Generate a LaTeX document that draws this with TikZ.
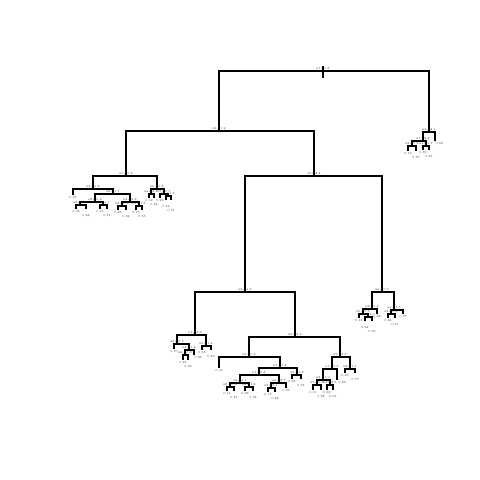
\documentclass[tikz,border=0pt]{standalone}
\begin{document}
\begin{tikzpicture}[x=1pt,y=-1pt,
  br/.style={line width=1.1pt},
  lab/.style={font=\fontsize{3}{3.4}\selectfont, text=black!80, inner sep=0.3pt}]
\useasboundingbox (0,0) rectangle (480,480);
\fill[white] (0,0) rectangle (480,480);
\newcommand\nd[3]{\coordinate (#1) at (#2,#3);}
\newcommand\lf[5][]{\coordinate (#2) at (#3,#4); \node[lab,anchor=north,yshift=-1pt,#1] (u#2) at (#2) {#5};}
\newcommand\spl[4]{\draw[br] (#2) |- (#1) -| (#3); \node[lab,anchor=south] (t#1) at ([yshift=1pt]#1) {#4};}
% internal nodes
\nd{root}{323}{71} \nd{rtop}{323}{66} \nd{rbot}{323}{78}
\nd{L}{219}{131} \nd{R}{429}{132}
\nd{A}{126}{176} \nd{B}{314}{176}
\nd{AL}{93}{189} \nd{ALb}{113}{194} \nd{ALba}{95}{202} \nd{ALbaa}{80}{205} \nd{ALbab}{103}{205}
\nd{ALbb}{130}{202} \nd{ALbba}{122}{206} \nd{ALbbb}{139}{206}
\nd{AR}{157}{189} \nd{ARa}{151}{194} \nd{ARb}{164}{194} \nd{ARbb}{168}{196}
\nd{BL}{245}{292} \nd{BLL}{195}{335} \nd{BLLa}{177}{344} \nd{BLLab}{189}{350} \nd{BLLaba}{185}{355}
\nd{BLLb}{206}{346}
\nd{BLR}{295}{337} \nd{BLRa}{249}{357} \nd{BLRab}{280}{368} \nd{BLRaba}{259}{375}
\nd{Xa}{240}{383} \nd{Xaa}{230}{387} \nd{Xab}{249}{387} \nd{Xb}{279}{383} \nd{Xba}{271}{388}
\nd{BLRabb}{297}{375}
\nd{BLRb}{340}{357} \nd{BLRba}{332}{369} \nd{Ya}{323}{380} \nd{Yaa}{317}{385} \nd{Yab}{330}{385}
\nd{BLRbb}{350}{369}
\nd{BR}{382}{292} \nd{BRa}{372}{309} \nd{BRaa}{363}{314} \nd{BRaab}{368}{317}
\nd{BRb}{394}{310} \nd{BRba}{391}{314}
\nd{Ra}{423}{141} \nd{Raa}{412}{146} \nd{Rab}{426}{146}
% leaves
\lf{l1}{73}{195}{0.21}
\lf{l2}{76}{209}{0.08} \lf[yshift=-4pt]{l3}{86}{209}{0.33}
\lf{l4}{100}{209}{0.15} \lf[yshift=-4pt]{l5}{107}{209}{0.47}
\lf{l6}{118}{210}{0.26} \lf[yshift=-4pt]{l7}{126}{210}{0.62}
\lf{l8}{136}{210}{0.19} \lf[yshift=-4pt]{l9}{142}{210}{0.55}
\lf{l10}{149}{198}{0.12} \lf[yshift=-4pt]{l11}{154}{198}{0.38}
\lf{l12}{160}{198}{0.29} \lf[yshift=-4pt]{l13}{166}{200}{0.44} \lf[yshift=-8pt]{l14}{171}{200}{0.71}
\lf{l15}{174}{349}{0.10}
\lf{l16}{183}{360}{0.27} \lf[yshift=-4pt]{l17}{188}{360}{0.52} \lf[anchor=north west]{l18}{194}{355}{0.36}
\lf{l19}{202}{350}{0.18} \lf[yshift=-4pt]{l20}{211}{350}{0.49}
\lf{l21}{219}{368}{0.09}
\lf{l22}{227}{391}{0.14} \lf[yshift=-4pt]{l23}{234}{391}{0.31}
\lf{l24}{245}{391}{0.23} \lf[yshift=-4pt]{l25}{253}{391}{0.58}
\lf{l26}{268}{392}{0.17} \lf[yshift=-4pt]{l27}{275}{392}{0.42} \lf{l28}{286}{388}{0.66}
\lf{l29}{292}{379}{0.35} \lf[yshift=-4pt]{l30}{301}{379}{0.74}
\lf{l31}{313}{390}{0.11} \lf[yshift=-4pt]{l32}{321}{390}{0.28}
\lf{l33}{327}{390}{0.39} \lf[yshift=-4pt]{l34}{333}{390}{0.61} \lf[anchor=north west,xshift=1pt]{l35}{337}{380}{0.83}
\lf{l36}{345}{373}{0.45} \lf[yshift=-4pt]{l37}{355}{373}{0.77}
\lf{l38}{359}{318}{0.13} \lf[yshift=-4pt]{l39}{365}{321}{0.34} \lf[yshift=-8pt]{l40}{372}{321}{0.56} \lf{l41}{377}{314}{0.68}
\lf{l42}{388}{318}{0.24} \lf[yshift=-4pt]{l43}{395}{318}{0.51} \lf{l44}{403}{314}{0.79}
\lf{l45}{408}{151}{0.16} \lf[yshift=-4pt]{l46}{416}{151}{0.37}
\lf{l47}{423}{150}{0.59} \lf[yshift=-4pt]{l48}{429}{150}{0.81} \lf[anchor=north west]{l49}{435}{141}{0.92}
% root stub
\draw[br] (rtop) -- (rbot);
% splits
\spl{root}{L}{R}{x7\,\textless\,0.5}
\spl{L}{A}{B}{x2\,\textless\,1.2}
\spl{R}{Ra}{l49}{x4\,\textless\,3.1}
\spl{A}{AL}{AR}{x1\,\textless\,0.8}
\spl{B}{BL}{BR}{x5\,\textless\,2.4}
\spl{AL}{l1}{ALb}{x3\,\textless\,0.2}
\spl{ALb}{ALba}{ALbb}{x6\,\textless\,1.7}
\spl{ALba}{ALbaa}{ALbab}{x8\,\textless\,0.4}
\spl{ALbaa}{l2}{l3}{x2\,\textless\,0.9}
\spl{ALbab}{l4}{l5}{x1\,\textless\,1.1}
\spl{ALbb}{ALbba}{ALbbb}{x4\,\textless\,2.2}
\spl{ALbba}{l6}{l7}{x9\,\textless\,0.6}
\spl{ALbbb}{l8}{l9}{x3\,\textless\,1.5}
\spl{AR}{ARa}{ARb}{x6\,\textless\,0.3}
\spl{ARa}{l10}{l11}{x2\,\textless\,2.8}
\spl{ARb}{l12}{ARbb}{x5\,\textless\,0.7}
\spl{ARbb}{l13}{l14}{x7\,\textless\,1.9}
\spl{BL}{BLL}{BLR}{x3\,\textless\,0.9}
\spl{BLL}{BLLa}{BLLb}{x1\,\textless\,2.6}
\spl{BLLa}{l15}{BLLab}{x8\,\textless\,0.5}
\spl{BLLab}{BLLaba}{l18}{x4\,\textless\,1.3}
\spl{BLLaba}{l16}{l17}{x6\,\textless\,0.2}
\spl{BLLb}{l19}{l20}{x9\,\textless\,1.4}
\spl{BLR}{BLRa}{BLRb}{x2\,\textless\,3.3}
\spl{BLRa}{l21}{BLRab}{x5\,\textless\,0.6}
\spl{BLRab}{BLRaba}{BLRabb}{x7\,\textless\,1.2}
\spl{BLRaba}{Xa}{Xb}{x1\,\textless\,0.4}
\spl{Xa}{Xaa}{Xab}{x3\,\textless\,2.1}
\spl{Xaa}{l22}{l23}{x8\,\textless\,0.8}
\spl{Xab}{l24}{l25}{x4\,\textless\,1.6}
\spl{Xb}{Xba}{l28}{x6\,\textless\,2.7}
\spl{Xba}{l26}{l27}{x2\,\textless\,0.1}
\spl{BLRabb}{l29}{l30}{x9\,\textless\,1.8}
\spl{BLRb}{BLRba}{BLRbb}{x5\,\textless\,2.9}
\spl{BLRba}{Ya}{l35}{x1\,\textless\,0.7}
\spl{Ya}{Yaa}{Yab}{x3\,\textless\,1.0}
\spl{Yaa}{l31}{l32}{x7\,\textless\,0.3}
\spl{Yab}{l33}{l34}{x4\,\textless\,2.5}
\spl{BLRbb}{l36}{l37}{x8\,\textless\,1.1}
\spl{BR}{BRa}{BRb}{x6\,\textless\,0.9}
\spl{BRa}{BRaa}{l41}{x2\,\textless\,1.4}
\spl{BRaa}{l38}{BRaab}{x9\,\textless\,0.5}
\spl{BRaab}{l39}{l40}{x5\,\textless\,2.0}
\spl{BRb}{BRba}{l44}{x1\,\textless\,1.6}
\spl{BRba}{l42}{l43}{x3\,\textless\,0.4}
\spl{Ra}{Raa}{Rab}{x7\,\textless\,2.3}
\spl{Raa}{l45}{l46}{x8\,\textless\,0.6}
\spl{Rab}{l47}{l48}{x4\,\textless\,1.7}
\end{tikzpicture}
\end{document}
